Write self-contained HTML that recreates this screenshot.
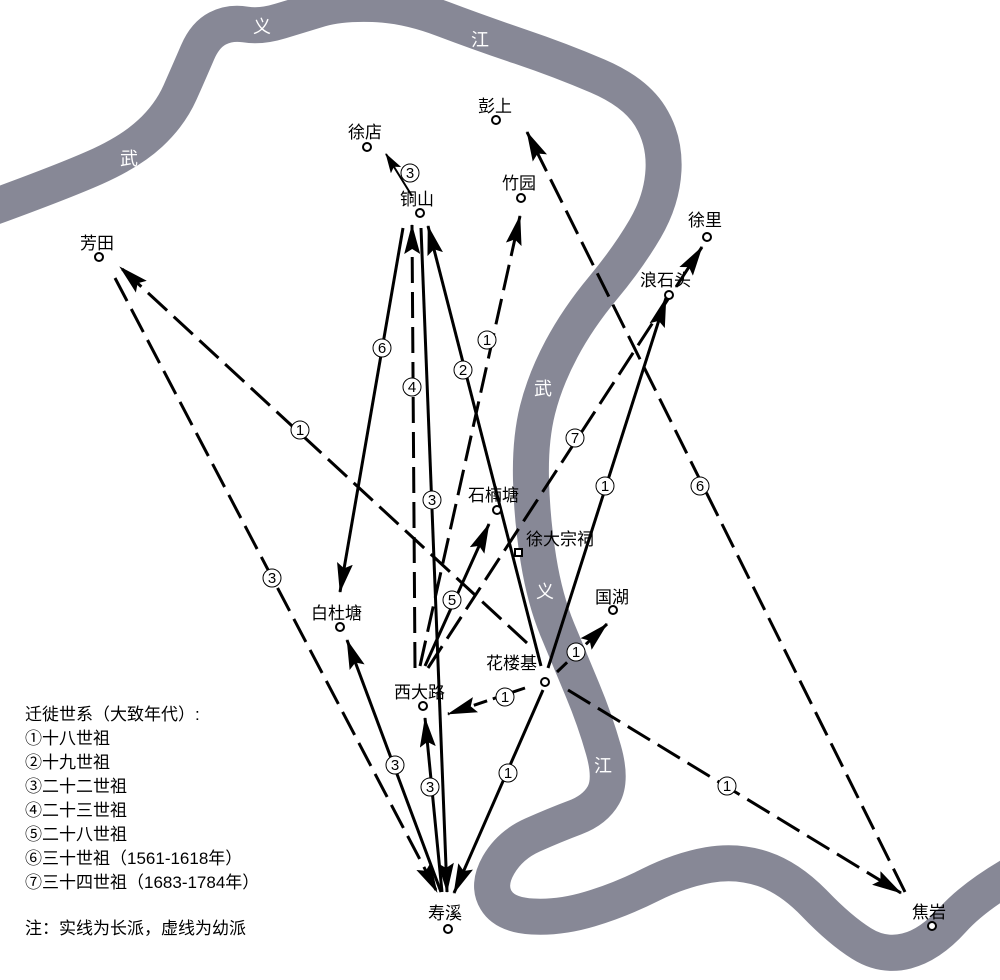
<!DOCTYPE html>
<html><head><meta charset="utf-8"><style>
body{margin:0;background:#fff}
svg{display:block}
text{font-family:"Liberation Sans","Noto Sans CJK SC",sans-serif}
</style></head><body>
<svg width="1000" height="980" viewBox="0 0 1000 980" xmlns="http://www.w3.org/2000/svg">
<defs>
<marker id="a" viewBox="0 0 30 16" refX="29" refY="8" markerWidth="30" markerHeight="16" markerUnits="userSpaceOnUse" orient="auto">
<path d="M0,0 L30,8 L0,16 L5,8 Z" fill="#000"/></marker>
<marker id="b" viewBox="0 0 20 12" refX="19" refY="6" markerWidth="20" markerHeight="12" markerUnits="userSpaceOnUse" orient="auto">
<path d="M0,0 L20,6 L0,12 L4,6 Z" fill="#000"/></marker>
</defs>
<g fill="none" stroke-linecap="round" stroke-linejoin="round">
<path d="M -20,212 Q 60,183 95,167.5 Q 130,152 150,133.5 Q 170,115 180,92.5 Q 190,70 197.5,52.5 Q 205,35 217.5,28.5 Q 230,22 245.5,24.5 Q 261,27 280.5,21 Q 300,15 320,9 Q 340,3 373,4 Q 406,5 443,19 Q 480,33 520,46.5 Q 560,60 597.5,76 Q 635,92 650,116 Q 665,140 663.5,170 Q 662,200 645,229 Q 628,258 603,288 Q 578,318 561.5,349 Q 545,380 537.5,410 Q 530,440 531,480 Q 532,520 538.5,560 Q 545,600 557.5,630 Q 570,660 582.5,690 Q 595,720 603.5,750 Q 612,780 603.5,795 Q 595,810 575,817.5 Q 555,825 532.5,835 Q 510,845 498.5,865 Q 487,885 496,900 Q 505,915 532.5,916.5 Q 560,918 590,909 Q 620,900 650,885 Q 680,870 708.5,865 Q 737,860 763.5,869 Q 790,878 815,904 Q 840,930 861.5,943.5 Q 883,957 906.5,951 Q 930,945 952.5,920 Q 975,895 1020,870" stroke="#878896" stroke-width="36"/>
</g>
<g fill="#fff" font-size="18" text-anchor="middle">
<text x="262" y="33">义</text><text x="480" y="46">江</text><text x="129" y="165">武</text>
<text x="543" y="395">武</text><text x="545" y="598">义</text><text x="603" y="772">江</text>
</g>
<g stroke="#000" stroke-width="3" fill="none" marker-end="url(#a)">
<path d="M412,196 L386,154" stroke-width="2" marker-end="url(#b)"/>
<path d="M527,643 L120,267" stroke-dasharray="26 9"/>
<path d="M115,278 L437,892" stroke-dasharray="26 9"/>
<path d="M403,228 L340,592"/>
<path d="M415,668 L412,225" stroke-dasharray="26 9"/>
<path d="M421,228 L447,892"/>
<path d="M541,666 L428,226"/>
<path d="M420,666 L520,216" stroke-dasharray="26 9"/>
<path d="M425,666 L489,524"/>
<path d="M428,668 L702,247" stroke-dasharray="26 9"/>
<path d="M548,668 L666,298"/>
<path d="M905,892 L527,132" stroke-dasharray="26 9"/>
<path d="M557,672 L607,624" stroke-dasharray="14 6"/>
<path d="M525,688 L448,714" stroke-dasharray="14 6"/>
<path d="M543,690 L454,893"/>
<path d="M441,892 L347,640"/>
<path d="M442,892 L425,718"/>
<path d="M568,690 L901,893" stroke-dasharray="26 9"/>
</g>
<g fill="#fff" stroke="#000" stroke-width="2">
<circle cx="367" cy="147" r="4"/><circle cx="496" cy="120" r="4"/><circle cx="521" cy="198" r="4"/>
<circle cx="420" cy="213" r="4"/><circle cx="707" cy="237" r="4"/><circle cx="99" cy="257" r="4"/>
<circle cx="669" cy="295" r="4"/><circle cx="497" cy="510" r="4"/><rect x="515" y="549" width="7" height="7"/>
<circle cx="613" cy="610" r="4"/><circle cx="340" cy="627" r="4"/><circle cx="545" cy="682" r="4"/>
<circle cx="423" cy="706" r="4"/><circle cx="448" cy="929" r="4"/><circle cx="932" cy="926" r="4"/>
</g>
<g font-size="17" fill="#000">
<text x="348" y="138">徐店</text><text x="478" y="112">彭上</text><text x="502" y="189">竹园</text>
<text x="400" y="205">铜山</text><text x="688" y="226">徐里</text><text x="80" y="249">芳田</text>
<text x="640" y="286">浪石头</text><text x="468" y="501">石楠塘</text><text x="526" y="545">徐大宗祠</text>
<text x="595" y="603">国湖</text><text x="311" y="619">白杜塘</text><text x="486" y="669">花楼基</text>
<text x="394" y="698">西大路</text><text x="428" y="919">寿溪</text><text x="912" y="918">焦岩</text>
</g>
<g font-size="15" text-anchor="middle">
<g fill="#fff" stroke="#000" stroke-width="1">
<circle cx="410" cy="173" r="9"/><circle cx="300" cy="430" r="9"/><circle cx="272" cy="578" r="9"/>
<circle cx="382" cy="348" r="9"/><circle cx="412" cy="387" r="9"/><circle cx="432" cy="500" r="9"/>
<circle cx="463" cy="370" r="9"/><circle cx="487" cy="340" r="9"/><circle cx="452" cy="600" r="9"/>
<circle cx="575" cy="438" r="9"/><circle cx="605" cy="486" r="9"/><circle cx="700" cy="486" r="9"/>
<circle cx="576" cy="652" r="9"/><circle cx="505" cy="697" r="9"/><circle cx="508" cy="773" r="9"/>
<circle cx="395" cy="765" r="9"/><circle cx="430" cy="787" r="9"/><circle cx="727" cy="786" r="9"/>
</g>
<g fill="#000">
<text x="410" y="178">3</text><text x="300" y="435">1</text><text x="272" y="583">3</text>
<text x="382" y="353">6</text><text x="412" y="392">4</text><text x="432" y="505">3</text>
<text x="463" y="375">2</text><text x="487" y="345">1</text><text x="452" y="605">5</text>
<text x="575" y="443">7</text><text x="605" y="491">1</text><text x="700" y="491">6</text>
<text x="576" y="657">1</text><text x="505" y="702">1</text><text x="508" y="778">1</text>
<text x="395" y="770">3</text><text x="430" y="792">3</text><text x="727" y="791">1</text>
</g></g>
<g font-size="17" fill="#000">
<text x="25" y="720">迁徙世系（大致年代）:</text>
<text x="25" y="744">①十八世祖</text>
<text x="25" y="768">②十九世祖</text>
<text x="25" y="792">③二十二世祖</text>
<text x="25" y="816">④二十三世祖</text>
<text x="25" y="840">⑤二十八世祖</text>
<text x="25" y="864">⑥三十世祖（1561-1618年）</text>
<text x="25" y="888">⑦三十四世祖（1683-1784年）</text>
<text x="25" y="934">注：实线为长派，虚线为幼派</text>
</g>
</svg>
</body></html>
